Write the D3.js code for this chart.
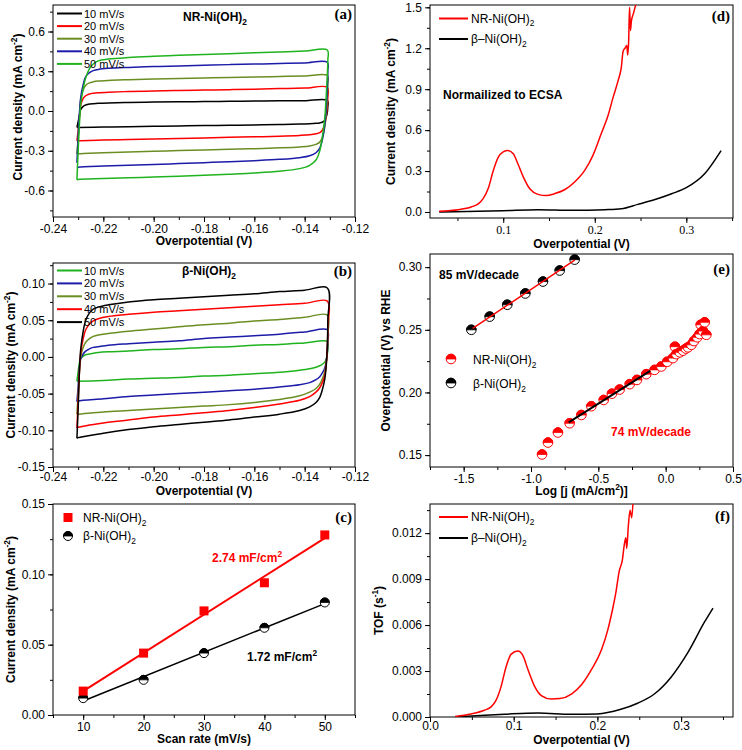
<!DOCTYPE html>
<html><head><meta charset="utf-8">
<script src="https://cdn.jsdelivr.net/npm/d3@7"></script>
<style>body{margin:0;background:#fff} svg{display:block}</style>
</head><body>
<svg id="c" width="742" height="750"></svg>
<script>
// ---------------- DATA ----------------
// CV sweep potentials (V): anodic (upper) branch and cathodic (lower) branch
const CV_UX = [-0.2305,-0.2300,-0.2295,-0.229,-0.228,-0.227,-0.2255,-0.224,-0.222,-0.218,-0.21,-0.20,-0.19,-0.18,-0.17,-0.16,-0.15,-0.14,-0.131];
const CV_LX = [-0.1308,-0.1312,-0.132,-0.133,-0.134,-0.1355,-0.138,-0.142,-0.15,-0.16,-0.17,-0.18,-0.19,-0.20,-0.21,-0.22,-0.23,-0.2305];
const scanLabels = ["10 mV/s","20 mV/s","30 mV/s","40 mV/s","50 mV/s"];

// (a) NR-Ni(OH)2 current density (mA cm-2)
const aUp10 = [-0.124,-0.08,-0.03,0.01,0.035,0.045,0.052,0.055,0.058,0.061,0.064,0.067,0.069,0.071,0.073,0.075,0.077,0.078,0.080];
const aLo10 = [0.03,-0.03,-0.07,-0.085,-0.09,-0.093,-0.096,-0.099,-0.102,-0.105,-0.108,-0.110,-0.113,-0.116,-0.118,-0.121,-0.124,-0.124];
const aUp20 = [-0.225,-0.15,-0.05,0.04,0.095,0.115,0.128,0.134,0.138,0.142,0.147,0.151,0.155,0.158,0.161,0.165,0.169,0.173,0.178];
const aLo20 = [0.10,0.0,-0.10,-0.145,-0.163,-0.172,-0.179,-0.184,-0.190,-0.195,-0.199,-0.203,-0.207,-0.211,-0.215,-0.219,-0.224,-0.225];
const aUp30 = [-0.325,-0.20,-0.05,0.08,0.16,0.195,0.212,0.220,0.226,0.231,0.236,0.241,0.245,0.249,0.253,0.256,0.260,0.264,0.268];
const aLo30 = [0.20,0.05,-0.12,-0.20,-0.235,-0.252,-0.264,-0.271,-0.278,-0.284,-0.289,-0.294,-0.299,-0.304,-0.309,-0.315,-0.323,-0.325];
const aUp40 = [-0.39,-0.20,-0.02,0.10,0.20,0.26,0.29,0.305,0.314,0.322,0.329,0.335,0.340,0.345,0.350,0.354,0.358,0.363,0.368];
const aLo40 = [0.30,0.10,-0.10,-0.22,-0.28,-0.315,-0.338,-0.352,-0.365,-0.375,-0.383,-0.390,-0.397,-0.403,-0.409,-0.416,-0.424,-0.425];
const aUp50 = [-0.52,-0.30,-0.10,0.05,0.17,0.25,0.32,0.355,0.378,0.392,0.404,0.413,0.420,0.427,0.433,0.439,0.445,0.452,0.460];
const aLo50 = [0.38,0.20,-0.05,-0.20,-0.30,-0.37,-0.41,-0.435,-0.455,-0.468,-0.477,-0.485,-0.492,-0.498,-0.504,-0.510,-0.517,-0.520];

// (b) beta-Ni(OH)2 current density (mA cm-2)
const bUp10 = [-0.033,-0.020,-0.008,-0.002,0.001,0.003,0.004,0.005,0.006,0.007,0.008,0.010,0.011,0.013,0.014,0.016,0.017,0.019,0.021];
const bLo10 = [0.010,0.0,-0.007,-0.010,-0.012,-0.014,-0.016,-0.018,-0.021,-0.023,-0.025,-0.026,-0.028,-0.029,-0.030,-0.032,-0.033,-0.033];
const bUp20 = [-0.061,-0.040,-0.015,-0.003,0.004,0.008,0.011,0.013,0.014,0.016,0.018,0.020,0.022,0.025,0.027,0.029,0.031,0.034,0.037];
const bLo20 = [0.020,0.0,-0.015,-0.022,-0.027,-0.031,-0.035,-0.038,-0.041,-0.044,-0.046,-0.048,-0.050,-0.052,-0.054,-0.057,-0.060,-0.061];
const bUp30 = [-0.078,-0.050,-0.020,0.0,0.013,0.020,0.025,0.028,0.030,0.032,0.035,0.038,0.041,0.044,0.046,0.049,0.051,0.054,0.057];
const bLo30 = [0.030,0.0,-0.020,-0.030,-0.037,-0.043,-0.048,-0.053,-0.058,-0.062,-0.065,-0.067,-0.069,-0.071,-0.073,-0.075,-0.078,-0.078];
const bUp40 = [-0.097,-0.060,-0.020,0.005,0.025,0.037,0.045,0.049,0.052,0.055,0.058,0.061,0.063,0.065,0.067,0.069,0.071,0.073,0.076];
const bLo40 = [0.040,0.0,-0.025,-0.035,-0.042,-0.048,-0.054,-0.059,-0.064,-0.069,-0.073,-0.076,-0.079,-0.082,-0.086,-0.090,-0.096,-0.097];
const bUp50 = [-0.111,-0.070,-0.020,0.010,0.035,0.050,0.060,0.065,0.068,0.071,0.075,0.078,0.080,0.082,0.084,0.086,0.089,0.091,0.094];
const bLo50 = [0.050,0.0,-0.030,-0.045,-0.055,-0.062,-0.068,-0.073,-0.078,-0.082,-0.086,-0.089,-0.092,-0.095,-0.099,-0.104,-0.110,-0.111];

// (c) double-layer current vs scan rate
const cRate = [10,20,30,40,50];
const cNR = [0.017,0.044,0.074,0.094,0.128];
const cBeta = [0.012,0.025,0.044,0.062,0.080];

// (d) LSV normalized to ECSA
const dX_NR = [0.03,0.04,0.051,0.06,0.065,0.073,0.078,0.084,0.089,0.0945,0.1,0.105,0.111,0.116,0.122,0.129,0.138,0.147,0.156,0.167,0.178,0.189,0.198,0.207,0.2145,0.22,0.2255,0.229,0.231,0.233,0.235,0.236,0.237,0.238,0.239,0.24,0.242,0.244,0.246];
const dY_NR = [0.005,0.01,0.017,0.027,0.037,0.061,0.098,0.18,0.30,0.40,0.44,0.45,0.427,0.354,0.256,0.17,0.129,0.12,0.134,0.163,0.22,0.305,0.415,0.573,0.707,0.84,0.963,1.06,1.18,1.2,1.22,1.15,1.25,1.5,1.33,1.4,1.45,1.5,1.55];
const dX_B = [0.03,0.06,0.1,0.138,0.175,0.211,0.229,0.247,0.265,0.284,0.3,0.32,0.338];
const dY_B = [0.0,0.004,0.01,0.017,0.012,0.017,0.024,0.056,0.09,0.134,0.178,0.28,0.45];

// (e) Tafel data
const eX_B = [-1.443,-1.307,-1.176,-1.042,-0.911,-0.787,-0.676];
const eY_B = [0.250,0.2605,0.270,0.279,0.2885,0.2973,0.306];
const eX_NR = [-0.918,-0.874,-0.800,-0.713,-0.626,-0.552,-0.460,-0.399,-0.342,-0.267,-0.213,-0.144,-0.082,-0.032,0.012,0.054,0.069,0.079,0.105,0.129,0.150,0.166,0.191,0.210,0.235,0.252,0.260,0.277,0.290,0.302];
const eY_NR = [0.1505,0.160,0.168,0.1754,0.182,0.189,0.194,0.199,0.2023,0.2066,0.210,0.2146,0.218,0.2207,0.2245,0.2274,0.2365,0.2306,0.232,0.2333,0.235,0.236,0.238,0.241,0.244,0.2466,0.254,0.249,0.256,0.246];

// (f) TOF
const fX_NR = [0.03,0.049,0.065,0.073,0.079,0.085,0.091,0.097,0.105,0.111,0.117,0.125,0.133,0.145,0.155,0.169,0.181,0.193,0.205,0.2125,0.218,0.222,0.226,0.23,0.232,0.234,0.235,0.237,0.239,0.241,0.243];
const fY_NR = [0.00004,0.0002,0.00044,0.00066,0.0011,0.002,0.0033,0.0041,0.0043,0.004,0.0031,0.002,0.0014,0.00117,0.0012,0.0015,0.0021,0.0031,0.0044,0.0057,0.007,0.0081,0.0095,0.0103,0.0112,0.0117,0.011,0.0125,0.0135,0.013,0.0145];
const fX_B = [0.03,0.06,0.089,0.129,0.169,0.2,0.228,0.248,0.268,0.288,0.308,0.328,0.338];
const fY_B = [0,0.0001,0.00018,0.00026,0.00018,0.0002,0.0005,0.0009,0.0015,0.0026,0.0042,0.0062,0.0071];

// tick values
const aXTicks = [-0.24,-0.22,-0.20,-0.18,-0.16,-0.14,-0.12];
const aYTicks = [-0.6,-0.3,0,0.3,0.6];
const bYTicks = [-0.15,-0.10,-0.05,0,0.05,0.10];
const cXTicks = [10,20,30,40,50];
const cYTicks = [0,0.05,0.10,0.15];
const dXTicks = [0.1,0.2,0.3];
const dYTicks = [0,0.3,0.6,0.9,1.2,1.5];
const eXTicks = [-1.5,-1.0,-0.5,0,0.5];
const eYTicks = [0.15,0.20,0.25,0.30];
const fXTicks = [0,0.1,0.2,0.3];
const fYTicks = [0,0.003,0.006,0.009,0.012];

// ---------------- DRAWING ----------------
const svg = d3.select('#c');
const SANS = 'Liberation Sans, Arial, sans-serif';
const SERIF = 'Liberation Serif, Times New Roman, serif';
const fmt = f => v => d3.format(f)(v).replace('\u2212','-');
const GREEN = '#1fb31f', OLIVE = '#6b8e23', BLUE = '#1c1ca8', RED = '#ff0000';
let clipId = 0;

function minorVals(dom, step){
  const out=[]; const lo=Math.ceil(dom[0]/step-1e-9), hi=Math.floor(dom[1]/step+1e-9);
  for(let i=lo;i<=hi;i++) out.push(+(i*step).toFixed(8));
  return out;
}

function rich(sel, parts){
  let shift = 0;
  parts.forEach(([t,m])=>{
    const ts = sel.append('tspan').text(t);
    let target = m==='sub'? 3.5 : m==='sup' ? -5 : 0;
    ts.attr('dy', target - shift); shift = target;
    if(m) ts.attr('font-size','0.7em');
  });
}

function panel(o){
  const x = d3.scaleLinear().domain(o.xd).range([o.l,o.r]);
  const y = d3.scaleLinear().domain(o.yd).range([o.b,o.t]);
  const g = svg.append('g');
  const id = 'clip'+(clipId++);
  g.append('clipPath').attr('id',id).append('rect')
    .attr('x',o.l).attr('y',o.t).attr('width',o.r-o.l).attr('height',o.b-o.t);
  g.append('g').attr('transform',`translate(0,${o.b})`)
    .call(d3.axisBottom(x).tickValues(minorVals(o.xd,o.xm)).tickSize(3).tickFormat(''));
  g.append('g').attr('transform',`translate(${o.l},0)`)
    .call(d3.axisLeft(y).tickValues(minorVals(o.yd,o.ym)).tickSize(3).tickFormat(''));
  const xa = g.append('g').attr('transform',`translate(0,${o.b})`)
    .call(d3.axisBottom(x).tickValues(o.xt).tickSize(5).tickPadding(o.xpad!=null?o.xpad:2).tickFormat(o.xf));
  const ya = g.append('g').attr('transform',`translate(${o.l},0)`)
    .call(d3.axisLeft(y).tickValues(o.yt).tickSize(5).tickPadding(3).tickFormat(o.yf));
  g.selectAll('.domain').remove();
  g.selectAll('.tick line').attr('stroke','#000');
  xa.attr('font-family', o.xSerif?SERIF:SANS).attr('font-size',12);
  ya.attr('font-family',SANS).attr('font-size',12);
  g.selectAll('.tick text').attr('fill','#000');
  g.append('rect').attr('x',o.l).attr('y',o.t).attr('width',o.r-o.l).attr('height',o.b-o.t)
    .attr('fill','none').attr('stroke','#000').attr('stroke-width',1);
  const xt = g.append('text').attr('x',(o.l+o.r)/2).attr('y',o.xty).attr('text-anchor','middle')
    .attr('font-family',SANS).attr('font-weight','bold').attr('font-size',12);
  rich(xt,o.xTitle);
  const yt = g.append('text').attr('transform',`translate(${o.ytx},${(o.t+o.b)/2+(o.ytdy||0)}) rotate(-90)`)
    .attr('text-anchor','middle').attr('font-family',SANS).attr('font-weight','bold').attr('font-size',12);
  rich(yt,o.yTitle);
  g.append('text').attr('x',o.r-3).attr('y',o.lab[1]).attr('text-anchor','end')
    .attr('font-family',SERIF).attr('font-weight','bold').attr('font-size',15).text(o.lab[0]);
  const plot = g.append('g').attr('clip-path',`url(#${id})`);
  return {x,y,g,plot};
}

const cdTitle = [['Current density (mA cm',''],['-2','sup'],[')','']];
const ovTitle = [['Overpotential (V)','']];

function cvPanel(p, ups, los, colors){
  const line = d3.line().x(d=>p.x(d[0])).y(d=>p.y(d[1])).curve(d3.curveCatmullRom.alpha(0.5));
  ups.forEach((up,k)=>{
    const pts = CV_UX.map((v,i)=>[v,up[i]]).concat(CV_LX.map((v,i)=>[v,los[k][i]]));
    p.plot.append('path').attr('d',line(pts)).attr('fill','none').attr('stroke',colors[k]).attr('stroke-width',1.5);
  });
}
function cvLegend(p, colors, y0, dy){
  colors.forEach((c,k)=>{
    const yy = y0 + k*dy;
    p.g.append('line').attr('x1',57).attr('x2',82).attr('y1',yy).attr('y2',yy).attr('stroke',c).attr('stroke-width',2);
    p.g.append('text').attr('x',84).attr('y',yy+4).attr('font-family',SANS).attr('font-size',11).text(scanLabels[k]);
  });
}

// ---- (a)
const pa = panel({l:53,r:355,t:5,b:217,xd:[-0.24,-0.12],yd:[-0.8,0.8],xt:aXTicks,yt:aYTicks,xm:0.01,ym:0.15,
  xf:fmt('.2f'),yf:fmt('.1f'),xTitle:ovTitle,yTitle:cdTitle,xty:245,ytx:22,ytdy:-4,lab:['(a)',19]});
const aCol = ['#000000',RED,OLIVE,BLUE,GREEN];
cvPanel(pa,[aUp10,aUp20,aUp30,aUp40,aUp50],[aLo10,aLo20,aLo30,aLo40,aLo50],aCol);
cvLegend(pa,aCol,13.5,12.6);
{ const t = pa.g.append('text').attr('x',215).attr('y',21).attr('text-anchor','middle')
    .attr('font-family',SANS).attr('font-weight','bold').attr('font-size',12);
  rich(t,[['NR-Ni(OH)',''],['2','sub']]); }

// ---- (b)
const pb = panel({l:53,r:355,t:263,b:467,xd:[-0.24,-0.12],yd:[-0.15,0.128],xt:aXTicks,yt:bYTicks,xm:0.01,ym:0.025,
  xf:fmt('.2f'),yf:fmt('.2f'),xpad:0,xTitle:ovTitle,yTitle:cdTitle,xty:495,ytx:15,lab:['(b)',276]});
const bCol = [GREEN,BLUE,OLIVE,RED,'#000000'];
cvPanel(pb,[bUp10,bUp20,bUp30,bUp40,bUp50],[bLo10,bLo20,bLo30,bLo40,bLo50],bCol);
cvLegend(pb,bCol,270.5,12.9);
{ const t = pb.g.append('text').attr('x',209).attr('y',275).attr('text-anchor','middle')
    .attr('font-family',SANS).attr('font-weight','bold').attr('font-size',12);
  rich(t,[['\u03b2-Ni(OH)',''],['2','sub']]); }

function halfMarkers(sel, data, r, color){
  const m = sel.selectAll(null).data(data).join('g').attr('transform',d=>`translate(${d[0]},${d[1]})`);
  m.append('circle').attr('r',r).attr('fill','#fff').attr('stroke',color).attr('stroke-width',1);
  m.append('path').attr('d',`M${-r},0A${r},${r} 0 0 1 ${r},0Z`).attr('fill',color).attr('stroke',color).attr('stroke-width',0.8);
}
function regress(xs, ys){
  const mx=d3.mean(xs), my=d3.mean(ys);
  const sxy=d3.sum(xs,(v,i)=>(v-mx)*(ys[i]-my)), sxx=d3.sum(xs,v=>(v-mx)*(v-mx));
  const s=sxy/sxx; return [s, my-s*mx];
}

// ---- (c)
const pc = panel({l:53,r:355,t:504,b:715,xd:[5,55],yd:[0,0.15],xt:cXTicks,yt:cYTicks,xm:5,ym:0.025,
  xf:fmt('d'),yf:fmt('.2f'),xTitle:[['Scan rate (mV/s)','']],yTitle:cdTitle,xty:743,ytx:15,lab:['(c)',522]});
{
  const [s1,i1] = regress(cRate,cNR), [s2,i2] = regress(cRate,cBeta);
  const x0=d3.min(cRate), x1=d3.max(cRate);
  pc.plot.append('line').attr('x1',pc.x(x0)).attr('x2',pc.x(x1)).attr('y1',pc.y(s1*x0+i1)).attr('y2',pc.y(s1*x1+i1))
    .attr('stroke',RED).attr('stroke-width',2);
  pc.plot.append('line').attr('x1',pc.x(x0)).attr('x2',pc.x(x1)).attr('y1',pc.y(s2*x0+i2)).attr('y2',pc.y(s2*x1+i2))
    .attr('stroke','#000').attr('stroke-width',1.5);
  halfMarkers(pc.g, cRate.map((v,i)=>[pc.x(v),pc.y(cBeta[i])]), 4.5, '#000');
  pc.g.selectAll(null).data(cRate).join('rect')
    .attr('x',(d)=>pc.x(d)-4.5).attr('y',(d,i)=>pc.y(cNR[i])-4.5).attr('width',9).attr('height',9).attr('fill',RED);
  pc.g.append('rect').attr('x',63.5).attr('y',513).attr('width',9).attr('height',9).attr('fill',RED);
  halfMarkers(pc.g,[[68,536]],4.5,'#000');
  const t1 = pc.g.append('text').attr('x',83).attr('y',522).attr('font-family',SANS).attr('font-size',12);
  rich(t1,[['NR-Ni(OH)',''],['2','sub']]);
  const t2 = pc.g.append('text').attr('x',83).attr('y',540).attr('font-family',SANS).attr('font-size',12);
  rich(t2,[['\u03b2-Ni(OH)',''],['2','sub']]);
  const a1 = pc.g.append('text').attr('x',212).attr('y',562).attr('font-family',SANS).attr('font-weight','bold').attr('font-size',12).attr('fill',RED);
  rich(a1,[['2.74 mF/cm',''],['2','sup']]);
  const a2 = pc.g.append('text').attr('x',247).attr('y',661).attr('font-family',SANS).attr('font-weight','bold').attr('font-size',12);
  rich(a2,[['1.72 mF/cm',''],['2','sup']]);
}

function lineLegend(p, y0, dy){
  [[RED,[['NR-Ni(OH)',''],['2','sub']]],['#000',[['\u03b2\u2013Ni(OH)',''],['2','sub']]]].forEach(([c,parts],k)=>{
    const yy=y0+k*dy;
    p.g.append('line').attr('x1',439).attr('x2',468).attr('y1',yy).attr('y2',yy).attr('stroke',c).attr('stroke-width',2);
    const t=p.g.append('text').attr('x',471).attr('y',yy+4).attr('font-family',SANS).attr('font-size',12);
    rich(t,parts);
  });
}

// ---- (d)
const pd = panel({l:430,r:733,t:5,b:218,xd:[0.02,0.351],yd:[-0.044,1.517],xt:dXTicks,yt:dYTicks,xm:0.05,ym:0.15,
  xf:fmt('.1f'),yf:fmt('.1f'),xSerif:true,xTitle:ovTitle,yTitle:cdTitle,xty:248,ytx:395,lab:['(d)',21]});
{
  const ln = d3.line().x(d=>pd.x(d[0])).y(d=>pd.y(d[1])).curve(d3.curveMonotoneX);
  pd.plot.append('path').attr('d',ln(dX_B.map((v,i)=>[v,dY_B[i]]))).attr('fill','none').attr('stroke','#000').attr('stroke-width',1.5);
  pd.plot.append('path').attr('d',ln(dX_NR.map((v,i)=>[v,dY_NR[i]]))).attr('fill','none').attr('stroke',RED).attr('stroke-width',1.5);
  lineLegend(pd,18.5,20.5);
  pd.g.append('text').attr('x',443).attr('y',99).attr('font-family',SANS).attr('font-weight','bold').attr('font-size',12).text('Normailized to ECSA');
}

// ---- (e)
const pe = panel({l:430,r:733,t:254,b:467,xd:[-1.75,0.5],yd:[0.1405,0.3105],xt:eXTicks,yt:eYTicks,xm:0.25,ym:0.025,
  xf:fmt('.1f'),yf:fmt('.2f'),xTitle:[['Log [j (mA/cm',''],['2','sup'],[')]','']],yTitle:[['Overpotential (V) vs RHE','']],
  xty:495,ytx:390,lab:['(e)',274]});
{
  const [s1,i1] = regress(eX_B,eY_B);
  const sel = eX_NR.map((v,i)=>[v,eY_NR[i]]).filter(d=>d[0]>=-0.72&&d[0]<=-0.12);
  const [s2,i2] = regress(sel.map(d=>d[0]),sel.map(d=>d[1]));
  const bx=[d3.min(eX_B)+0.01,d3.max(eX_B)], nx=[-0.72,-0.115];
  halfMarkers(pe.plot, eX_B.map((v,i)=>[pe.x(v),pe.y(eY_B[i])]), 4.8, '#000');
  halfMarkers(pe.plot, eX_NR.map((v,i)=>[pe.x(v),pe.y(eY_NR[i])]), 4.8, RED);
  pe.plot.append('line').attr('x1',pe.x(bx[0])).attr('x2',pe.x(bx[1])).attr('y1',pe.y(s1*bx[0]+i1)).attr('y2',pe.y(s1*bx[1]+i1))
    .attr('stroke',RED).attr('stroke-width',1.5);
  pe.plot.append('line').attr('x1',pe.x(nx[0])).attr('x2',pe.x(nx[1])).attr('y1',pe.y(s2*nx[0]+i2)).attr('y2',pe.y(s2*nx[1]+i2))
    .attr('stroke','#000').attr('stroke-width',2);
  halfMarkers(pe.g,[[451,359]],4.8,RED);
  halfMarkers(pe.g,[[451,383]],4.8,'#000');
  const t1=pe.g.append('text').attr('x',473).attr('y',364).attr('font-family',SANS).attr('font-size',12);
  rich(t1,[['NR-Ni(OH)',''],['2','sub']]);
  const t2=pe.g.append('text').attr('x',473).attr('y',388).attr('font-family',SANS).attr('font-size',12);
  rich(t2,[['\u03b2-Ni(OH)',''],['2','sub']]);
  pe.g.append('text').attr('x',439).attr('y',279).attr('font-family',SANS).attr('font-weight','bold').attr('font-size',12).text('85 mV/decade');
  pe.g.append('text').attr('x',611).attr('y',436).attr('font-family',SANS).attr('font-weight','bold').attr('font-size',12).attr('fill',RED).text('74 mV/decade');
}

// ---- (f)
const pf = panel({l:430,r:733,t:504,b:717,xd:[0,0.362],yd:[0,0.0139],xt:fXTicks,yt:fYTicks,xm:0.05,ym:0.0015,
  xf:fmt('.1f'),yf:fmt('.3f'),xpad:-1,xTitle:ovTitle,yTitle:[['TOF (s',''],['-1','sup'],[')','']],xty:744,ytx:383,lab:['(f)',521]});
{
  const ln = d3.line().x(d=>pf.x(d[0])).y(d=>pf.y(d[1])).curve(d3.curveMonotoneX);
  pf.plot.append('path').attr('d',ln(fX_B.map((v,i)=>[v,fY_B[i]]))).attr('fill','none').attr('stroke','#000').attr('stroke-width',1.5);
  pf.plot.append('path').attr('d',ln(fX_NR.map((v,i)=>[v,fY_NR[i]]))).attr('fill','none').attr('stroke',RED).attr('stroke-width',1.5);
  lineLegend(pf,517,21);
}
</script>
</body></html>
